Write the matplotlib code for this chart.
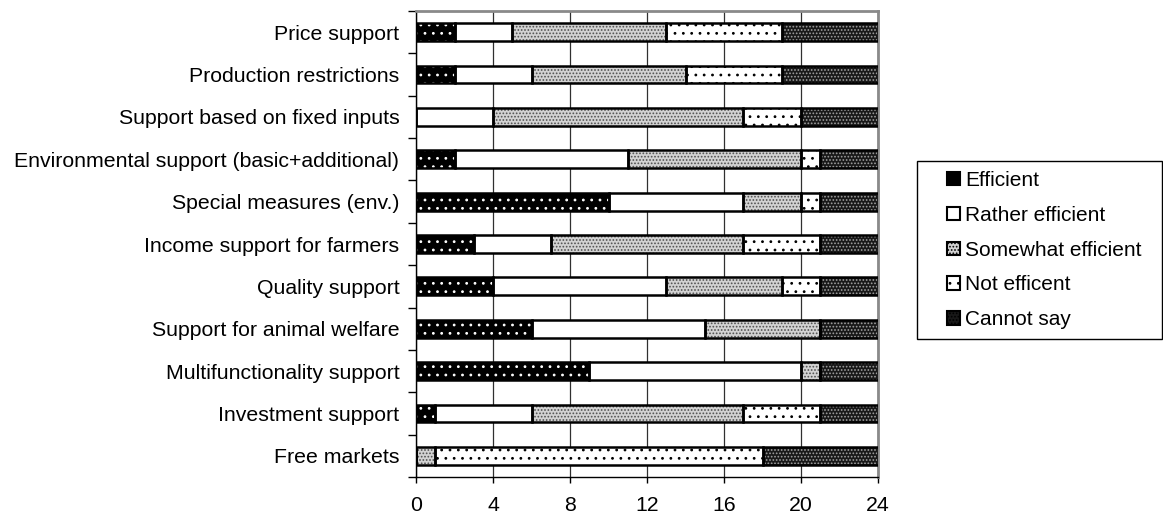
import numpy as np
import matplotlib.pyplot as plt
from matplotlib.patches import Patch, Rectangle

plt.rcParams.update({
    'font.family': ['Liberation Sans', 'DejaVu Sans'],
    'font.size': 15.3,
    'hatch.linewidth': 0.8,
})

categories = [
    'Price support',
    'Production restrictions',
    'Support based on fixed inputs',
    'Environmental support (basic+additional)',
    'Special measures (env.)',
    'Income support for farmers',
    'Quality support',
    'Support for animal welfare',
    'Multifunctionality support',
    'Investment support',
    'Free markets',
]
series_names = ['Efficient', 'Rather efficient', 'Somewhat efficient',
                'Not efficent', 'Cannot say']
efficient = [2, 2, 0, 2, 10, 3, 4, 6, 9, 1, 0]
rather = [3, 4, 4, 9, 7, 4, 9, 9, 11, 5, 0]
somewhat = [8, 8, 13, 9, 3, 10, 6, 6, 1, 11, 1]
not_eff = [6, 5, 3, 1, 1, 4, 2, 0, 0, 4, 17]
cannot = [5, 5, 4, 3, 3, 3, 3, 3, 3, 3, 6]
x_ticks = [0, 4, 8, 12, 16, 20, 24]

# (facecolor, hatch colour, hatch)
styles = [
    ('black', 'white', '..'),
    ('white', 'white', ''),
    ('#d2d2d2', '#505050', '.....'),
    ('white', 'black', '..'),
    ('#181818', '#a0a0a0', '.....'),
]

W, H = 1163, 515
fig = plt.figure(figsize=(W / 100, H / 100), dpi=100)
ax = fig.add_axes([416 / W, 1 - 477 / H, (878 - 416) / W, (477 - 11) / H])

y = np.arange(len(categories))
left = np.zeros(len(categories))
handles = []
for vals, name, (fc, hc, hatch) in zip(
        [efficient, rather, somewhat, not_eff, cannot], series_names, styles):
    vals = np.array(vals, dtype=float)
    ax.barh(y, vals, left=left, height=0.42, color=fc, edgecolor=hc,
            hatch=hatch, linewidth=0, zorder=2)
    ax.barh(y, vals, left=left, height=0.42, fill=False, edgecolor='black',
            linewidth=1.8, zorder=3)
    handles.append(Patch(facecolor=fc, edgecolor='black', hatch=hatch,
                         linewidth=1.5, label=name))
    left += vals

ax.set_xlim(0, 24)
ax.set_ylim(len(categories) - 0.5, -0.5)
ax.set_xticks(x_ticks)
ax.set_yticks(y)
ax.set_yticklabels(categories)
ax.set_yticks(np.arange(len(categories) + 1) - 0.5, minor=True)
ax.tick_params(axis='y', which='major', length=0, pad=12)
ax.tick_params(axis='y', which='minor', length=6, width=1, direction='out')
ax.tick_params(axis='x', length=4.5, width=1, direction='out', pad=9)
ax.grid(axis='x', color='#303030', linewidth=0.9, zorder=0)
ax.set_axisbelow(True)

for side in ['top', 'right']:
    ax.spines[side].set_color('#8a8a8a')
    ax.spines[side].set_linewidth(2)
for side in ['left', 'bottom']:
    ax.spines[side].set_color('black')
    ax.spines[side].set_linewidth(1)

# legend frame drawn separately so the left padding matches the original
fig.patches.append(Rectangle((917 / W, 1 - 339 / H), (1162 - 917) / W,
                             (339 - 161) / H, transform=fig.transFigure,
                             fill=False, edgecolor='black', linewidth=1))
fig.legend(handles=handles, loc='upper left',
           bbox_to_anchor=(947 / W, 1 - 171 / H), frameon=False,
           handlelength=0.62, handleheight=0.62, handletextpad=0.25,
           labelspacing=0.76, borderpad=0, borderaxespad=0, fontsize=15)

fig.savefig('out.png', dpi=100)
